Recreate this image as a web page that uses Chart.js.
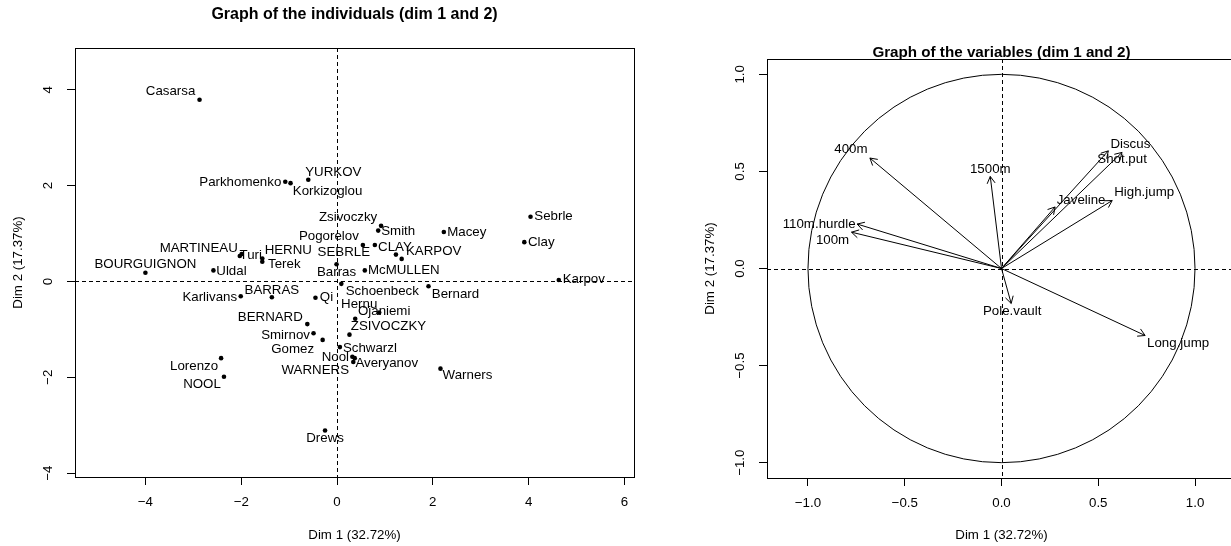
<!DOCTYPE html>
<html>
<head>
<meta charset="utf-8">
<script src="https://cdn.jsdelivr.net/npm/chart.js@4.4.0/dist/chart.umd.min.js"></script>
<style>
  html, body { margin: 0; padding: 0; background: #fff; overflow: hidden; width: 1231px; height: 546px; }
  #indWrap { position: absolute; left: 0; top: 0; width: 700px; height: 546px; }
  #varWrap { position: absolute; left: 690px; top: 0; width: 560px; height: 546px; }
</style>
</head>
<body>
<div id="indWrap"><canvas id="indChart" width="700" height="546"></canvas></div>
<div id="varWrap"><canvas id="varChart" width="560" height="546"></canvas></div>
<script>
// individuals (dim 1 / dim 2 coordinates)
const athletes = ['SEBRLE', 'CLAY', 'KARPOV', 'BERNARD', 'YURKOV', 'WARNERS', 'ZSIVOCZKY', 'McMULLEN',
  'MARTINEAU', 'HERNU', 'BARRAS', 'NOOL', 'BOURGUIGNON', 'Sebrle', 'Clay', 'Karpov', 'Macey', 'Warners',
  'Zsivoczky', 'Hernu', 'Nool', 'Bernard', 'Schwarzl', 'Pogorelov', 'Schoenbeck', 'Barras', 'Smith',
  'Averyanov', 'Ojaniemi', 'Smirnov', 'Qi', 'Drews', 'Parkhomenko', 'Terek', 'Gomez', 'Turi', 'Lorenzo',
  'Karlivans', 'Korkizoglou', 'Uldal', 'Casarsa'];
const dim1Ind = [0.79, 1.23, 1.35, -0.62, -0.60, 0.34, 0.26, 0.58,
  -1.99, -1.56, -1.36, -2.36, -4.00, 4.04, 3.91, 4.63, 2.23, 2.16,
  0.92, 0.38, 0.32, 1.91, 0.06, 0.54, 0.09, -0.01, 0.86,
  0.37, 0.88, -0.49, -0.45, -0.25, -1.08, -1.56, -0.30, -2.03, -2.42,
  -2.01, -0.97, -2.58, -2.87];
const dim2Ind = [0.76, 0.56, 0.47, -0.89, 2.12, -1.68, -1.11, 0.23,
  0.57, 0.48, -0.33, -1.99, 0.18, 1.35, 0.82, 0.03, 1.03, -1.82,
  1.16, -0.78, -1.57, -0.10, -1.37, 0.76, -0.05, 0.36, 1.06,
  -1.60, -0.65, -1.08, -0.34, -3.11, 2.08, 0.41, -1.22, 0.53, -1.60,
  -0.31, 2.05, 0.23, 3.79];
// where each name sits relative to its point (px)
const indLabelShift = [[-31, 7], [-1, -7], [32, -8], [-37, -7], [25, -7], [-38, 8], [39, -8], [39, 0],
  [-43, -6], [26, -8], [0, -7], [-22, 8], [0, -8], [23, 0], [17, 0], [25, -1], [23, 0], [27, 7],
  [-33, -8], [4, -14], [-17, 1], [27, 8], [30, 1], [-34, -9], [41, 8], [0, 8], [20, 1],
  [32, 5], [5, -1], [-28, 2], [11, 0], [0, 8], [-45, 1], [22, 3], [-30, 9], [11, -1], [-27, 8],
  [-31, 1], [37, 8], [18, 1], [-29, -8]];

// variables (correlation circle)
const variables = ['100m', 'Long.jump', 'Shot.put', 'High.jump', '400m', '110m.hurdle', 'Discus',
  'Pole.vault', 'Javeline', '1500m'];
const dim1Var = [-0.775, 0.742, 0.623, 0.572, -0.680, -0.746, 0.552, 0.050, 0.277, -0.058];
const dim2Var = [0.187, -0.345, 0.598, 0.350, 0.569, 0.229, 0.606, -0.180, 0.317, 0.474];
const varLabelShift = [[-19, 8], [33, 8], [0, 7], [32, -8], [-19, -9], [-38, 0], [22, -7],
  [1, 8], [26, -7], [0, -7]];

// axes
const indTicksX = [-4, -2, 0, 2, 4, 6];
const indTickLabelsX = ['\u22124', '\u22122', '0', '2', '4', '6'];
const indTicksY = [-4, -2, 0, 2, 4];
const indTickLabelsY = ['\u22124', '\u22122', '0', '2', '4'];
const varTicks = [-1, -0.5, 0, 0.5, 1];
const varTickLabels = ['\u22121.0', '\u22120.5', '0.0', '0.5', '1.0'];

const FONT = '"Liberation Sans", Arial, Helvetica, sans-serif';
const LAB = '13.3px ' + FONT;

// R-like frame: dashed zero lines, box, titles, rotated y tick labels, text labels
function rFrame(o) {
  return {
    id: 'rFrame',
    beforeDatasetsDraw(chart) {
      const { ctx, chartArea: a, scales: { x, y } } = chart;
      ctx.save();
      ctx.strokeStyle = '#000';
      ctx.lineWidth = 1;
      if (o.circle) {
        const cx = x.getPixelForValue(0), cy = y.getPixelForValue(0);
        ctx.beginPath();
        ctx.ellipse(cx, cy, x.getPixelForValue(1) - cx, cy - y.getPixelForValue(1), 0, 0, 2 * Math.PI);
        ctx.stroke();
      }
      ctx.setLineDash([4, 3]);
      const x0 = Math.round(x.getPixelForValue(0)) + 0.5;
      const y0 = Math.round(y.getPixelForValue(0)) + 0.5;
      ctx.beginPath();
      ctx.moveTo(x0, a.top); ctx.lineTo(x0, a.bottom);
      ctx.moveTo(a.left, y0); ctx.lineTo(a.right, y0);
      ctx.stroke();
      ctx.restore();
    },
    afterDatasetsDraw(chart) {
      const ctx = chart.ctx;
      ctx.save();
      ctx.fillStyle = '#000';
      ctx.strokeStyle = '#000';
      ctx.lineWidth = 1;
      ctx.font = LAB;
      ctx.textAlign = 'center';
      ctx.textBaseline = 'middle';
      if (o.arrows) {
        chart.data.datasets.forEach((ds, i) => {
          const pts = chart.getDatasetMeta(i).data;
          const p0 = pts[0], p1 = pts[1];
          const ang = Math.atan2(p1.y - p0.y, p1.x - p0.x);
          ctx.beginPath();
          ctx.moveTo(p1.x - 8 * Math.cos(ang - Math.PI / 6), p1.y - 8 * Math.sin(ang - Math.PI / 6));
          ctx.lineTo(p1.x, p1.y);
          ctx.lineTo(p1.x - 8 * Math.cos(ang + Math.PI / 6), p1.y - 8 * Math.sin(ang + Math.PI / 6));
          ctx.stroke();
          const s = o.shift[i];
          ctx.fillText(o.names[i], p1.x + s[0], p1.y + s[1]);
        });
      } else {
        chart.getDatasetMeta(0).data.forEach((p, i) => {
          const s = o.shift[i];
          ctx.fillText(o.names[i], p.x + s[0], p.y + s[1]);
        });
      }
      ctx.restore();
    },
    afterDraw(chart) {
      const { ctx, chartArea: a, scales: { y } } = chart;
      ctx.save();
      ctx.strokeStyle = '#000';
      ctx.lineWidth = 1;
      ctx.strokeRect(Math.round(a.left) + 0.5, Math.round(a.top) + 0.5,
        Math.round(a.right - a.left), Math.round(a.bottom - a.top));
      ctx.fillStyle = '#000';
      ctx.textAlign = 'center';
      ctx.textBaseline = 'middle';
      const mx = (a.left + a.right) / 2, my = (a.top + a.bottom) / 2;
      ctx.font = 'bold ' + o.titleSize + 'px ' + FONT;
      ctx.fillText(o.title, mx, o.titleY);
      ctx.font = LAB;
      ctx.fillText(o.xTitle, mx, 535);
      // y tick labels, parallel to the axis
      o.yTicks.forEach((v, i) => {
        ctx.save();
        ctx.translate(a.left - 27, y.getPixelForValue(v));
        ctx.rotate(-Math.PI / 2);
        ctx.fillText(o.yLabels[i], 0, 0);
        ctx.restore();
      });
      ctx.translate(a.left - 57, my);
      ctx.rotate(-Math.PI / 2);
      ctx.fillText(o.yTitle, 0, 0);
      ctx.restore();
    }
  };
}

function axis(min, max, ticks, labels, fit) {
  return {
    type: 'linear', min: min, max: max,
    afterBuildTicks: s => { s.ticks = ticks.map(v => ({ value: v })); },
    afterFit: fit,
    grid: { drawOnChartArea: false, color: '#000', tickLength: 8, lineWidth: 1 },
    border: { display: false },
    ticks: {
      color: '#000', font: { family: FONT, size: 13.3 }, padding: 9, maxRotation: 0,
      callback: (v, i) => labels[i]
    }
  };
}

const baseOpts = {
  responsive: false, animation: false, events: [],
  plugins: { legend: { display: false }, tooltip: { enabled: false } }
};

// Graph of the individuals
const indX = axis(-5.47, 6.20, indTicksX, indTickLabelsX, s => { s.height = 69; });
const indY = axis(-4.08, 4.87, indTicksY, indTickLabelsY, s => { s.width = 75; });
indY.ticks.display = false;
new Chart(document.getElementById('indChart').getContext('2d'), {
  type: 'scatter',
  data: {
    datasets: [{
      data: athletes.map((n, i) => ({ x: dim1Ind[i], y: dim2Ind[i] })),
      pointRadius: 2.3, pointBackgroundColor: '#000', pointBorderWidth: 0
    }]
  },
  options: Object.assign({}, baseOpts, {
    layout: { padding: { top: 48, right: 66, left: 0, bottom: 0 } },
    scales: { x: indX, y: indY }
  }),
  plugins: [rFrame({
    names: athletes, shift: indLabelShift, title: 'Graph of the individuals (dim 1 and 2)',
    titleY: 15, titleSize: 16,
    xTitle: 'Dim 1 (32.72%)', yTitle: 'Dim 2 (17.37%)', yTicks: indTicksY, yLabels: indTickLabelsY
  })]
});

// Graph of the variables
const varX = axis(-1.2117, 1.2117, varTicks, varTickLabels, s => { s.height = 68; });
const varY = axis(-1.079, 1.079, varTicks, varTickLabels, s => { s.width = 77; });
varY.ticks.display = false;
new Chart(document.getElementById('varChart').getContext('2d'), {
  type: 'scatter',
  data: {
    datasets: variables.map((v, i) => ({
      data: [{ x: 0, y: 0 }, { x: dim1Var[i], y: dim2Var[i] }],
      showLine: true, borderColor: '#000', borderWidth: 1, pointRadius: 0
    }))
  },
  options: Object.assign({}, baseOpts, {
    layout: { padding: { top: 59, right: 14, left: 0, bottom: 0 } },
    scales: { x: varX, y: varY }
  }),
  plugins: [rFrame({
    arrows: true, circle: true, names: variables, shift: varLabelShift,
    title: 'Graph of the variables (dim 1 and 2)', titleY: 53, titleSize: 15.2,
    xTitle: 'Dim 1 (32.72%)', yTitle: 'Dim 2 (17.37%)', yTicks: varTicks, yLabels: varTickLabels
  })]
});
</script>
</body>
</html>
